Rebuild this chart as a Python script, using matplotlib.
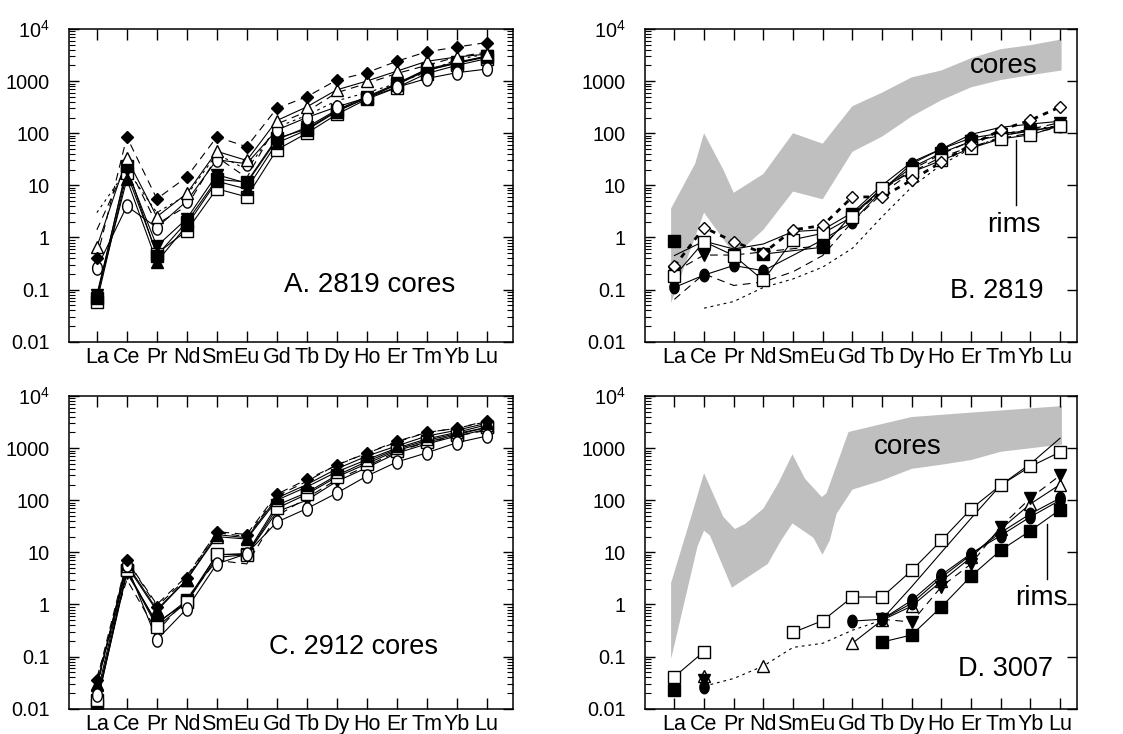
import numpy as np
import matplotlib
matplotlib.use('Agg')
import matplotlib.pyplot as plt
from matplotlib.path import Path
from matplotlib.ticker import FixedLocator, LogLocator, NullFormatter, FuncFormatter

plt.rcParams['font.family'] = ['Liberation Sans', 'DejaVu Sans']
plt.rcParams['mathtext.fontset'] = 'custom'
plt.rcParams['mathtext.rm'] = 'Liberation Sans'
plt.rcParams['mathtext.it'] = 'Liberation Sans'

nan = np.nan
ree = ['La', 'Ce', 'Pr', 'Nd', 'Sm', 'Eu', 'Gd', 'Tb', 'Dy', 'Ho', 'Er', 'Tm', 'Yb', 'Lu']
ytick_vals = [0.01, 0.1, 1, 10, 100, 1000, 10000]
ytick_text = ['0.01', '0.1', '1', '10', '100', '1000', '$10^4$']

# ---------------- Panel A: 2819 cores ----------------
a_diamond_fill = [0.4, 85, 5.5, 14.5, 85, 55, 300, 500, 1050, 1450, 2400, 3650, 4500, 5500]
a_tri_open = [0.66, 33, 2.5, 7, 45, 30, 175, 320, 680, 1000, 1550, 2400, 2900, 3300]
a_ellipse = [0.26, 4.0, 1.55, 5.0, 31, 26, 115, 200, 320, 480, 760, 1120, 1450, 1700]
a_sq_open = [0.058, 17, 0.49, 1.35, 8.6, 6.0, 48, 100, 230, 450, 750, 1400, 2000, 2700]
a_tri_fill = [0.075, 13, 0.34, 1.7, 12, 8.5, 65, 115, 260, 480, 850, 1600, 2200, 2900]
a_tri_down = [0.08, 20, 0.68, 2.3, 16, 11, 75, 130, 280, 500, 900, 1700, 2300, 3000]
a_sq_fill = [0.07, 23, 0.45, 2.0, 13, 11.6, 80, 120, 270, 470, 880, 1630, 2230, 3000]
a_dotted = [3.0, 20, 3.0, 6.5, 40, 20, 130, 220, 420, 600, 900, 1500, 2600, 3300]
a_dashed = [1.4, 26, 1.8, 4.0, 35, 14, 150, 260, 600, 900, 1400, 2000, 2900, 3600]

# ---------------- Panel B: 2819 rims ----------------
b_core_up_x = [-0.11, 0.7, 1.0, 1.65, 2.0, 3.0, 4.0, 5.0, 6.0, 7.0, 8.0, 9.0, 10.0, 11.0, 12.0, 13.05]
b_core_up_y = [3.6, 26, 100, 20, 7.2, 16.5, 100, 63, 330, 600, 1180, 1600, 2750, 4100, 4900, 6300]
b_core_lo_x = [-0.11, 1.0, 2.05, 3.0, 4.0, 5.0, 6.0, 7.0, 8.0, 9.0, 10.0, 11.0, 12.0, 13.05]
b_core_lo_y = [0.055, 3.0, 0.45, 1.4, 7.6, 5.4, 44, 86, 210, 430, 760, 1050, 1300, 1600]
b_diamond_open = [0.28, 1.55, 0.83, 0.5, 1.4, 1.7, 6.0, 6.0, 12.6, 28, 60, 115, 178, 320]
b_sq_open = [0.18, 0.83, 0.45, 0.15, 0.91, 1.2, 2.5, 9, 18, 30, 52, 78, 93, 140]
b_circ_fill = [0.11, 0.19, 0.29, 0.23, nan, 0.9, 2.0, 8, 26, 50, 81, 100, 110, 138]
b_tri_down = [0.22, 0.46, 0.46, nan, nan, 0.7, 2.6, 8, 20, 40, 70, 95, 120, 160]
b_sq_fill = [nan, nan, nan, 0.48, nan, 0.65, 2.8, 8.5, 22, 42, 70, 90, 110, 140]
b_sq_fill_la = [0.85, nan, nan, nan, nan, nan, nan, nan, nan, nan, nan, nan, nan, nan]
b_solid_plain = [0.45, 0.85, 0.6, 0.75, 1.3, 1.4, 3.0, 10, 28, 50, 95, 130, 150, 170]
b_dash_plain = [0.065, 0.2, 0.12, 0.14, 0.22, 0.45, 2.0, 7, 18, 35, 55, 80, 100, 130]
b_dot_plain = [nan, 0.044, 0.059, 0.11, 0.16, 0.27, 0.62, 2.5, 9.3, 25, 51, 86, 120, 140]

# ---------------- Panel C: 2912 cores ----------------
c_diamond_fill = [0.035, 7, 0.91, 3.2, 25, 22, 130, 250, 470, 800, 1350, 2000, 2400, 3300]
c_tri_fill = [0.03, 6, 0.8, 3.0, 22, 19, 110, 200, 400, 700, 1100, 1700, 2200, 3000]
c_tri_open = [0.028, 5.5, 0.75, 3.0, 20, 18, 100, 180, 350, 600, 1000, 1500, 2000, 2800]
c_sq_open = [0.015, 4.5, 0.37, 1.1, 9.1, 9.0, 70, 130, 280, 500, 900, 1300, 1800, 2500]
c_sq_fill = [0.012, 4.5, 0.42, 1.2, 9.0, 9.5, 80, 140, 300, 550, 950, 1400, 1900, 2500]
c_tri_down = [0.013, 4.0, 0.45, 1.1, 8.0, 9.0, 60, 100, 230, 420, 800, 1200, 1700, 2300]
c_ellipse = [0.018, 5.6, 0.21, 0.83, 6.0, 9.4, 38, 69, 137, 290, 540, 810, 1270, 1700]
c_dash1 = [0.04, 3.0, 0.3, 1.3, 7, 6, 50, 110, 250, 450, 850, 1300, 1700, 2200]
c_dash2 = [0.025, 7, 1.0, 3.5, 24, 20, 120, 230, 480, 800, 1300, 2000, 2400, 3200]

# ---------------- Panel D: 3007 ----------------
d_core_up_x = [-0.11, 0.55, 1.0, 1.65, 2.04, 2.38, 3.0, 3.5, 3.98, 4.4, 4.97, 5.13, 5.87, 7.0, 8.0, 10.0, 13.06]
d_core_up_y = [2.6, 45, 330, 48, 28, 35, 69, 210, 760, 260, 115, 137, 2040, 2900, 3950, 4800, 6400]
d_core_lo_x = [-0.11, 0.78, 1.0, 1.2, 1.94, 3.15, 3.6, 3.98, 4.69, 4.99, 5.24, 5.47, 6.0, 7.0, 8.0, 9.0, 10.0, 11.0, 13.06]
d_core_lo_y = [0.09, 13, 26, 21, 2.1, 6, 17, 36, 19, 9, 17, 55, 160, 240, 400, 480, 590, 850, 1170]
d_sq_open_lree = [0.041, 0.125, nan, nan, nan, nan, nan, nan, nan, nan, nan, nan, nan, nan]
d_sq_open = [nan, nan, nan, nan, 0.29, 0.49, 1.39, 1.39, 4.5, 17, 68, 195, 445, 840]
d_sq_fill = [0.023, nan, nan, nan, nan, nan, nan, 0.19, 0.26, 0.9, 3.5, 11, 26, 66]
d_circ1 = [nan, 0.026, nan, nan, nan, nan, 0.48, 0.52, 1.2, 3.7, 9.5, 21, 48, 100]
d_circ2 = [nan, nan, nan, nan, nan, nan, nan, 0.52, 1.05, 3.3, 9.0, 24, 55, 110]
d_tri_open = [nan, nan, nan, nan, nan, nan, 0.18, 0.5, 0.93, 2.8, 8, 28, 85, 200]
d_tri_open_pts = [nan, 0.042, nan, 0.065, nan, nan, nan, nan, nan, nan, nan, nan, nan, nan]
d_tri_down = [nan, 0.035, nan, nan, nan, nan, nan, 0.52, 0.46, 2.2, 6, 31, 110, 300]
d_dot_plain = [nan, 0.027, 0.038, 0.066, 0.15, 0.18, 0.32, 0.5, nan, nan, nan, nan, nan, nan]
d_solid_plain = [nan, nan, nan, nan, nan, nan, nan, 0.52, 2.2, 10, 45, 195, 500, 1550]

x = np.arange(len(ree))

W, H = 1123, 734
fig = plt.figure(figsize=(W / 100, H / 100), dpi=100)


def add_ax(l, r, t, b):
    return fig.add_axes([l / W, 1 - b / H, (r - l) / W, (b - t) / H])


axA = add_ax(69.3, 513.3, 29, 341.7)
axB = add_ax(645, 1076.7, 29, 341.7)
axC = add_ax(69.3, 513.3, 396, 708.7)
axD = add_ax(645, 1076.7, 396, 708.7)

t = np.linspace(0, 2 * np.pi, 64)
ellipse_marker = Path(np.column_stack([0.74 * np.cos(t), np.sin(t)]), closed=True)


def setup(ax, xlim, right_minor):
    ax.set_yscale('log')
    ax.set_ylim(0.01, 1e4)
    ax.set_xlim(*xlim)
    ax.set_xticks(x)
    ax.set_xticklabels(ree)
    ax.yaxis.set_major_locator(FixedLocator(ytick_vals))
    ax.yaxis.set_major_formatter(FuncFormatter(lambda v, p: ytick_text[int(round(np.log10(v))) + 2]))
    ax.yaxis.set_minor_locator(LogLocator(base=10, subs=np.arange(2, 10), numticks=20))
    ax.yaxis.set_minor_formatter(NullFormatter())
    ax.tick_params(axis='x', which='major', direction='in', top=True, bottom=True,
                   length=8, width=1.0, pad=4, labelsize=15.5)
    ax.tick_params(axis='y', which='major', direction='in', left=True, right=True,
                   length=7, width=1.0, pad=14, labelsize=14.3)
    ax.tick_params(axis='y', which='minor', direction='in', left=True, right=right_minor,
                   length=4.2, width=0.8)
    for s in ax.spines.values():
        s.set_linewidth(1.1)


def series(ax, vals, marker=None, filled=True, ls='-', lw=0.8, ms=8, bridge=True, z=3):
    v = np.array(vals, float)
    xs = x.astype(float)
    if bridge:
        m = ~np.isnan(v)
        xs, v = xs[m], v[m]
    if ls is not None:
        ax.plot(xs, v, ls=ls, color='black', lw=lw, zorder=2)
    if marker is not None:
        ax.plot(xs, v, ls='none', marker=marker, ms=ms, mfc='black' if filled else 'white',
                mec='black', mew=1.0, zorder=z)


DASH = (0, (7, 5))
DOT = (0, (2.5, 3.5))

# Panel A
setup(axA, (-0.92, 13.89), True)
series(axA, a_dotted, None, ls=DOT)
series(axA, a_dashed, None, ls=DASH)
series(axA, a_sq_open, 's', False, ms=8)
series(axA, a_tri_fill, '^', True, ms=8)
series(axA, a_sq_fill, 's', True, ms=8)
series(axA, a_tri_down, 'v', True, ms=8)
series(axA, a_ellipse, ellipse_marker, False, ms=9.5)
series(axA, a_tri_open, '^', False, ms=8)
series(axA, a_diamond_fill, 'D', True, ls=DASH, ms=6)
axA.text(9.1, 0.12, 'A. 2819 cores', fontsize=20, ha='center', va='center')

# Panel B
setup(axB, (-0.99, 13.56), False)
axB.fill(b_core_up_x + b_core_lo_x[::-1], b_core_up_y + b_core_lo_y[::-1],
         color='#bfbfbf', lw=0, zorder=1)
series(axB, b_dot_plain, None, ls=DOT)
series(axB, b_dash_plain, None, ls=DASH)
series(axB, b_solid_plain, None, ls='-')
series(axB, b_tri_down, 'v', True, ls=DASH, ms=8)
series(axB, b_sq_fill, 's', True, ms=8)
series(axB, b_sq_fill_la, 's', True, ls=None, ms=9)
series(axB, b_circ_fill, ellipse_marker, True, ms=9)
series(axB, b_sq_open, 's', False, ms=8)
series(axB, b_diamond_open, 'D', False, ls=(0, (2, 2)), lw=2.0, ms=6)
axB.text(11.11, 1950, 'cores', fontsize=20, ha='center', va='center')
axB.text(11.45, 1.75, 'rims', fontsize=20.5, ha='center', va='center')
axB.plot([11.5, 11.5], [4.2, 74], color='black', lw=1.0, zorder=4)
axB.text(10.87, 0.096, 'B. 2819', fontsize=19.5, ha='center', va='center')

# Panel C
setup(axC, (-0.92, 13.89), True)
series(axC, c_dash1, None, ls=DASH)
series(axC, c_dash2, None, ls=DASH)
series(axC, c_tri_down, 'v', True, ms=8)
series(axC, c_sq_fill, 's', True, ms=8)
series(axC, c_sq_open, 's', False, ms=8)
series(axC, c_tri_open, '^', False, ms=8)
series(axC, c_tri_fill, '^', True, ms=8)
series(axC, c_ellipse, ellipse_marker, False, ms=9.5)
series(axC, c_diamond_fill, 'D', True, ls=DASH, ms=6)
axC.text(8.55, 0.15, 'C. 2912 cores', fontsize=19.5, ha='center', va='center')

# Panel D
setup(axD, (-0.99, 13.56), False)
axD.fill(d_core_up_x + d_core_lo_x[::-1], d_core_up_y + d_core_lo_y[::-1],
         color='#bfbfbf', lw=0, zorder=1)
series(axD, d_dot_plain, None, ls=DOT, bridge=False)
series(axD, d_solid_plain, None, ls='-', bridge=False)
series(axD, d_sq_open_lree, 's', False, ms=8.5, bridge=False)
series(axD, d_sq_open, 's', False, ms=8.5, bridge=False)
series(axD, d_sq_fill, 's', True, ms=8.5, bridge=False)
series(axD, d_tri_open, '^', False, ms=8, bridge=False)
series(axD, d_tri_open_pts, '^', False, ls=None, ms=8)
series(axD, d_tri_down, 'v', True, ls=DASH, ms=8, bridge=False)
series(axD, d_circ2, ellipse_marker, True, ms=9, bridge=False)
series(axD, d_circ1, ellipse_marker, True, ms=9, bridge=False)
axD.text(7.85, 1050, 'cores', fontsize=20, ha='center', va='center')
axD.text(12.38, 1.35, 'rims', fontsize=20, ha='center', va='center')
axD.plot([12.55, 12.55], [3.1, 35], color='black', lw=1.0, zorder=4)
axD.text(11.15, 0.058, 'D. 3007', fontsize=19.5, ha='center', va='center')

fig.savefig('out.png', dpi=100)
